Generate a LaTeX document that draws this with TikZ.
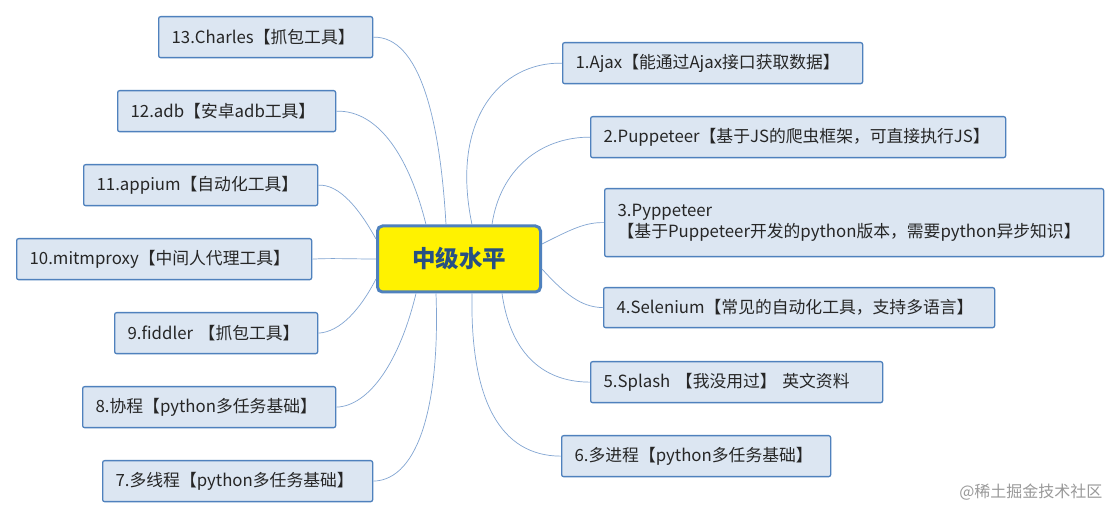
\documentclass[tikz,border=0pt]{standalone}
\usepackage{fontspec}
\setmainfont{Noto Sans CJK SC}
\begin{document}
\begin{tikzpicture}[x=1pt,y=-1pt,
  leaf/.style={draw={rgb,255:red,79;green,129;blue,189},line width=1.3pt,fill={rgb,255:red,220;green,230;blue,242},rounded corners=2pt,anchor=north west,inner sep=0pt,font=\fontsize{16.8}{21}\selectfont,text=black!85},
  link/.style={draw={rgb,255:red,130;green,165;blue,210},line width=0.7pt}]
\useasboundingbox (0,0) rectangle (1120,518);
\fill[white] (0,0) rectangle (1120,518);
\newcommand\leafnode[6]{\node[leaf,minimum width=#4pt,minimum height=#5pt,text width=#4pt-26pt,align=left,inner xsep=13pt] (#1) at (#2,#3) {#6};}
% right
\leafnode{r1}{562}{42}{300}{41}{1.Ajax【能通过Ajax接口获取数据】}
\leafnode{r2}{590}{116}{415}{41}{2.Puppeteer【基于JS的爬虫框架，可直接执行JS】}
\leafnode{r3}{604}{188}{499}{68}{3.Pyppeteer\\【基于Puppeteer开发的python版本，需要python异步知识】}
\leafnode{r4}{603}{287}{391}{40}{4.Selenium【常见的自动化工具，支持多语言】}
\leafnode{r5}{590}{361}{292}{41}{5.Splash 【我没用过】 英文资料}
\leafnode{r6}{561}{435}{269}{41}{6.多进程【python多任务基础】}
% left
\leafnode{l13}{158}{16}{214}{41}{13.Charles【抓包工具】}
\leafnode{l12}{117}{90}{218}{41}{12.adb【安卓adb工具】}
\leafnode{l11}{83}{164}{234}{41}{11.appium【自动化工具】}
\leafnode{l10}{16}{238}{295}{41}{10.mitmproxy【中间人代理工具】}
\leafnode{l9}{114}{312}{203}{41}{9.fiddler 【抓包工具】}
\leafnode{l8}{82}{386}{253}{41}{8.协程【python多任务基础】}
\leafnode{l7}{102}{460}{270}{41}{7.多线程【python多任务基础】}
% center
\node[draw={rgb,255:red,79;green,129;blue,189},line width=3pt,fill=yellow,rounded corners=5pt,minimum width=163pt,minimum height=66pt,font=\fontsize{23.5}{26}\selectfont\bfseries,text={rgb,255:red,40;green,80;blue,130}] (c) at (459,259) {中级水平};
% connectors right
\draw[link] (c.north east)++(-70,0) .. controls (450,120) and (500,62) .. (r1.west);
\draw[link] (c.north east)++(-50,0) .. controls (500,170) and (540,137) .. (r2.west);
\draw[link] (c.east)++(0,-15) .. controls (570,230) and (585,222) .. (r3.west);
\draw[link] (c.east)++(0,10) .. controls (570,300) and (585,307) .. (r4.west);
\draw[link] (c.south east)++(-40,0) .. controls (510,350) and (540,382) .. (r5.west);
\draw[link] (c.south east)++(-70,0) .. controls (470,400) and (500,456) .. (r6.west);
% connectors left
\draw[link] (c.north west)++(70,0) .. controls (440,120) and (420,36) .. (l13.east);
\draw[link] (c.north west)++(50,0) .. controls (410,160) and (380,110) .. (l12.east);
\draw[link] (c.west)++(0,-20) .. controls (360,210) and (340,184) .. (l11.east);
\draw[link] (c.west)++(0,0) .. controls (350,259) and (330,258) .. (l10.east);
\draw[link] (c.west)++(0,20) .. controls (360,310) and (340,332) .. (l9.east);
\draw[link] (c.south west)++(40,0) .. controls (400,360) and (370,406) .. (l8.east);
\draw[link] (c.south west)++(60,0) .. controls (440,400) and (420,480) .. (l7.east);
\node[anchor=east,text=black!40,font=\fontsize{16}{18}\selectfont] (wm) at (1106,492) {@稀土掘金技术社区};
\end{tikzpicture}
\end{document}
